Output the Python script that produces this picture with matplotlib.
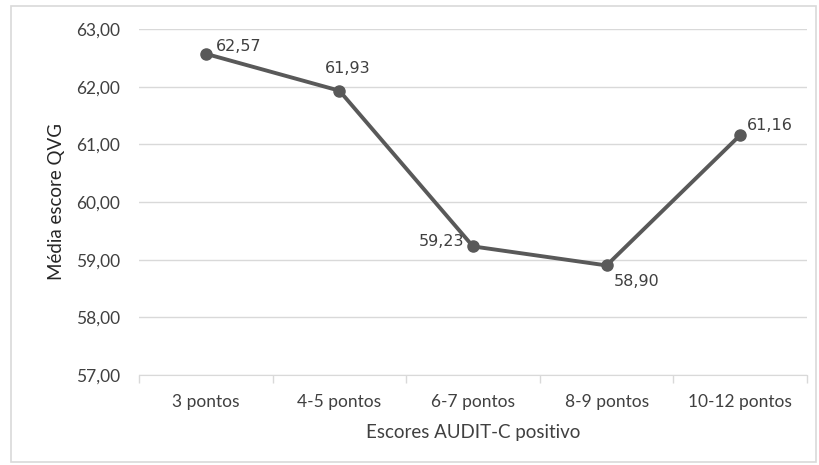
import matplotlib.pyplot as plt
from matplotlib.patches import Rectangle
import numpy as np

plt.rcParams['font.family'] = ['Lato', 'DejaVu Sans']

categories = ['3 pontos', '4-5 pontos', '6-7 pontos', '8-9 pontos', '10-12 pontos']
values = [62.57, 61.93, 59.23, 58.90, 61.16]
yticks = [57, 58, 59, 60, 61, 62, 63]

# label placement (offset in points, alignment)
label_pos = [((7, 5), 'left', 'center'),
             ((6, 16), 'center', 'center'),
             ((-6, 3.5), 'right', 'center'),
             ((5, -11.5), 'left', 'center'),
             ((5, 7), 'left', 'center')]

def fmt(v):
    return f"{v:.2f}".replace('.', ',')

fig = plt.figure(figsize=(8.19, 4.65), dpi=100)
ax = fig.add_axes([139 / 819, 1 - 375 / 465, 668 / 819, 346 / 465])

x = np.arange(len(categories))
ax.plot(x, values, color='#595959', lw=2.8, marker='o', ms=8, zorder=3)

for xi, v, (off, ha, va) in zip(x, values, label_pos):
    ax.annotate(fmt(v), (xi, v), xytext=off, textcoords='offset points',
                ha=ha, va=va, fontsize=11.5, color='#404040',
                family='DejaVu Sans')

ax.set_xlim(-0.5, len(categories) - 0.5)
ax.set_ylim(57, 63)
ax.set_yticks(yticks)
ax.set_yticklabels([fmt(t) for t in yticks], fontsize=12.5, color='#404040')
ax.set_xticks(x)
ax.set_xticklabels(categories, fontsize=12.5, color='#404040')
ax.set_xticks(np.arange(-0.5, len(categories)), minor=True)
ax.tick_params(axis='x', which='major', length=0, pad=14)
ax.tick_params(axis='x', which='minor', length=6, color='#d9d9d9', width=1)
ax.tick_params(axis='y', length=0, pad=13.5)

ax.grid(axis='y', color='#d9d9d9', lw=1)
ax.set_axisbelow(True)
for s in ['top', 'right', 'left']:
    ax.spines[s].set_visible(False)
ax.spines['bottom'].set_color('#d9d9d9')

ax.set_xlabel('Escores AUDIT-C positivo', fontsize=13.5, color='#404040', labelpad=10)
ax.set_ylabel('Média escore QVG', fontsize=13.5, color='#262626', labelpad=8)

fig.patches.append(Rectangle((11 / 819, 3 / 465), 805 / 819, 456 / 465,
                             transform=fig.transFigure, fill=False,
                             edgecolor='#d9d9d9', lw=1.2))

fig.savefig('out.png', dpi=100)
